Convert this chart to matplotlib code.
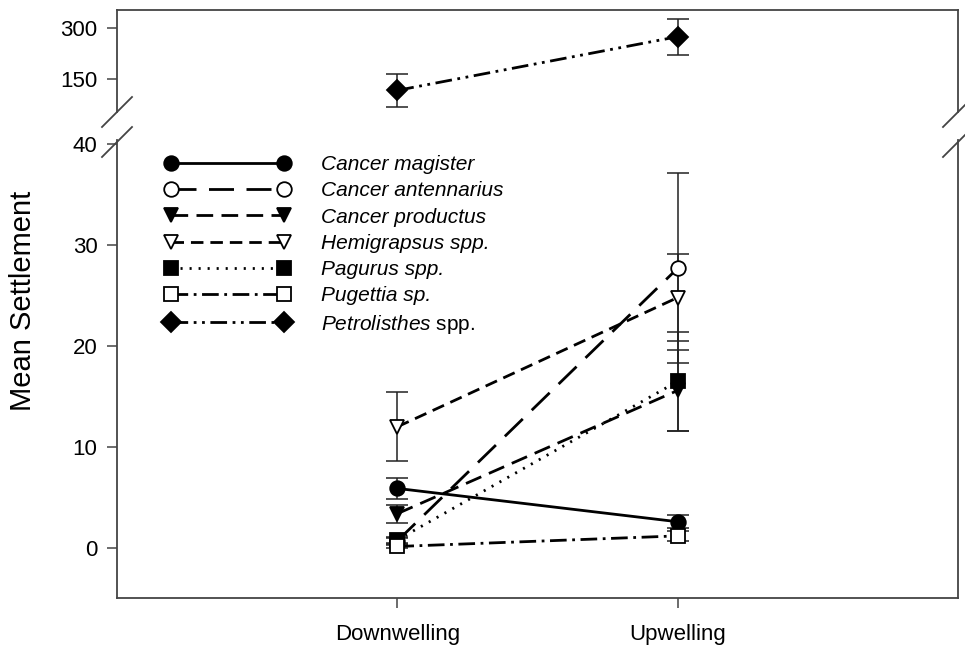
import matplotlib
matplotlib.use("Agg")
import matplotlib.pyplot as plt
from matplotlib.lines import Line2D

plt.rcParams["font.family"] = ["Liberation Sans", "DejaVu Sans"]
plt.rcParams["mathtext.fontset"] = "custom"
plt.rcParams["mathtext.it"] = "Liberation Sans:italic"
plt.rcParams["mathtext.rm"] = "Liberation Sans"
plt.rcParams["lines.scale_dashes"] = False

categories = ["Downwelling", "Upwelling"]

# Mean settlement and error per species (Downwelling, Upwelling)
magister_mean = [5.9, 2.6]
magister_err = [1.0, 0.65]
antennarius_mean = [0.7, 27.7]
antennarius_err = [0.3, 9.4]
productus_mean = [3.4, 15.6]
productus_err = [0.9, 4.0]
hemigrapsus_mean = [12.0, 24.8]
hemigrapsus_err = [3.4, 4.3]
pagurus_mean = [0.8, 16.5]
pagurus_err = [0.3, 4.9]
pugettia_mean = [0.15, 1.2]
pugettia_err = [0.15, 0.5]
petrolisthes_mean = [116, 275]
petrolisthes_err = [49, 53]

labels = ["Cancer magister", "Cancer antennarius", "Cancer productus",
          "Hemigrapsus spp.", "Pagurus spp.", "Pugettia sp.",
          r"$\mathit{Petrolisthes}$ spp."]

# marker, filled, dashes (points; None = solid)
styles = [
    ("o", True, None),
    ("o", False, (18, 9)),
    ("v", True, (12, 6)),
    ("v", False, (9, 5)),
    ("s", True, (1.5, 5)),
    ("s", False, (12, 4, 2, 4)),
    ("D", True, (12, 4, 2, 4, 2, 4)),
]

series = [
    (magister_mean, magister_err),
    (antennarius_mean, antennarius_err),
    (productus_mean, productus_err),
    (hemigrapsus_mean, hemigrapsus_err),
    (pagurus_mean, pagurus_err),
    (pugettia_mean, pugettia_err),
    (petrolisthes_mean, petrolisthes_err),
]

fig = plt.figure(figsize=(9.65, 6.45), dpi=100)
left, width = 117 / 965, (958 - 117) / 965
ax_top = fig.add_axes([left, 1 - 112 / 645, width, 102 / 645])
ax = fig.add_axes([left, 1 - 598 / 645, width, (598 - 140) / 645])

x = list(range(len(categories)))
spine_color = "#444444"
handles = []
for i, ((mean, err), (mk, filled, dashes)) in enumerate(zip(series, styles)):
    target = ax_top if i == 6 else ax
    target.errorbar(x, mean, yerr=err, fmt="none", ecolor="#222222",
                    elinewidth=1.1, capsize=8, capthick=1.1, zorder=2)
    kw = dict(color="black", lw=2.0, marker=mk, ms=10.5,
              markerfacecolor="black" if filled else "white",
              markeredgecolor="black", markeredgewidth=1.3, zorder=3)
    line, = target.plot(x, mean, **kw)
    if dashes is not None:
        line.set_dashes(dashes)
    h = Line2D([], [], **kw)
    if dashes is not None:
        h.set_dashes(dashes)
    handles.append(h)

for a in (ax, ax_top):
    a.set_xlim(-1, 2)
    for s in a.spines.values():
        s.set_color(spine_color)
        s.set_linewidth(1.3)
    a.tick_params(axis="both", direction="out", length=7, width=1.1,
                  color=spine_color, labelsize=16, pad=7)

ax.set_ylim(-4.95, 40.4)
ax.set_yticks([0, 10, 20, 30, 40])
ax.set_xticks(x)
ax.set_xticklabels(categories, fontsize=16)
ax.tick_params(axis="x", pad=12)
ax.spines["top"].set_visible(False)

ax_top.set_ylim(52, 354)
ax_top.set_yticks([150, 300])
ax_top.set_xticks([])
ax_top.spines["bottom"].set_visible(False)

# axis break marks
for xpx in (117, 958):
    for ypx in (112, 142):
        fig.add_artist(Line2D([(xpx - 15) / 965, (xpx + 15) / 965],
                              [1 - (ypx + 15) / 645, 1 - (ypx - 15) / 645],
                              color=spine_color, lw=1.3))

fig.text(23 / 965, 1 - 301 / 645, "Mean Settlement", rotation=90,
         ha="center", va="center", fontsize=21)

leg = ax.legend(handles, labels, loc="upper left",
                bbox_to_anchor=(48 / 841, 1 - 15 / 458),
                frameon=False, numpoints=2, handlelength=6.0, handletextpad=1.5,
                labelspacing=0.35, borderpad=0, borderaxespad=0,
                prop={"style": "italic", "size": 15})
leg.get_texts()[-1].set_fontstyle("normal")

fig.savefig("out.png", dpi=100)
